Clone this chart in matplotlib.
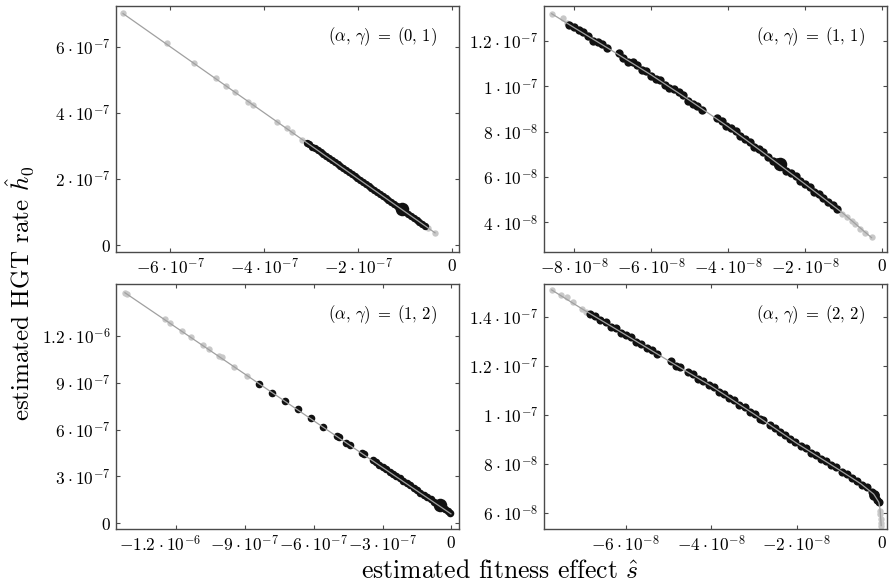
import matplotlib
matplotlib.use("Agg")
import matplotlib.pyplot as plt
from matplotlib.transforms import ScaledTranslation

# ── DATA (s in units of 1e-7 for panels A/C, 1e-9 for panels B/D) ─────────────

# (alpha, gamma) = (0, 1)   units 1e-7
A_GRAY_S = [-7.00, -6.07, -5.49, -5.03, -4.81, -4.62, -4.34, -4.23, -3.72, -3.52, -3.41, -3.19, -0.51, -0.37]
A_GRAY_H = [7.03, 6.10, 5.50, 5.04, 4.81, 4.62, 4.34, 4.23, 3.72, 3.53, 3.41, 3.19, 0.52, 0.37]
A_BLACK_S = [-3.10, -3.04, -2.98, -2.92, -2.86, -2.80, -2.74, -2.68, -2.62, -2.56, -2.50, -2.44, -2.38,
             -2.32, -2.26, -2.20, -2.14, -2.08, -2.02, -1.96, -1.90, -1.84, -1.78, -1.72, -1.66, -1.60,
             -1.54, -1.48, -1.42, -1.36, -1.30, -1.24, -1.18, -1.12, -1.06, -1.00, -0.94, -0.88, -0.82,
             -0.76, -0.70, -0.64, -0.58]
A_BLACK_H = [3.10, 3.05, 2.98, 2.93, 2.86, 2.80, 2.75, 2.68, 2.62, 2.57, 2.50, 2.44, 2.39,
             2.32, 2.26, 2.21, 2.14, 2.08, 2.03, 1.96, 1.90, 1.85, 1.78, 1.72, 1.67, 1.60,
             1.54, 1.49, 1.42, 1.36, 1.31, 1.24, 1.18, 1.13, 1.06, 1.00, 0.95, 0.88, 0.82,
             0.77, 0.70, 0.64, 0.59]
A_BIG = (-1.08, 1.08)
A_LINE_S = [-7.00, -0.37]
A_LINE_H = [7.00, 0.37]

# (alpha, gamma) = (1, 1)   units 1e-9
B_GRAY_S = [-85.8, -82.9, -81.8, -10.5, -9.2, -7.9, -7.0, -5.7, -4.4, -2.7]
B_GRAY_H = [131.9, 129.9, 128.0, 43.9, 42.5, 40.7, 39.3, 36.9, 35.2, 33.4]
B_BLACK_S = [-81.2, -80.0, -78.8, -77.6, -76.4, -75.0, -73.8, -72.6, -71.4, -68.4, -67.2, -66.0, -64.8,
             -63.6, -62.4, -61.2, -60.0, -58.8, -57.6, -56.4, -55.2, -54.0, -52.8, -51.6, -50.4, -49.2,
             -48.0, -46.8, -42.8, -41.6, -40.4, -39.2, -38.0, -36.8, -35.6, -34.4, -33.2, -32.0, -30.8,
             -29.6, -28.4, -27.2, -26.0, -24.8, -23.6, -22.4, -21.2, -20.0, -18.8, -17.6, -16.4, -15.2,
             -14.0, -12.8, -11.6]
B_BLACK_H = [127.0, 126.1, 124.6, 123.9, 122.1, 119.8, 119.4, 118.7, 116.6, 114.4, 112.2, 110.8, 110.5,
             109.3, 107.0, 106.8, 104.4, 103.2, 102.9, 100.5, 99.0, 98.7, 97.5, 95.9, 93.6, 92.3,
             91.2, 89.6, 85.8, 84.6, 82.3, 81.4, 80.2, 78.0, 76.9, 75.6, 73.4, 72.5, 71.2,
             68.9, 67.2, 66.6, 64.8, 62.6, 61.9, 60.3, 58.2, 57.0, 55.5, 53.6, 52.5, 50.9,
             49.0, 47.7, 45.9]
B_BIG = (-26.5, 65.6)
B_LINE_S = [-85.8, -80, -70, -60, -50, -40, -30, -20, -10, -2.7]
B_LINE_H = [131.9, 125.8, 115.5, 105.0, 93.8, 82.2, 69.7, 56.9, 43.9, 33.3]

# (alpha, gamma) = (1, 2)   units 1e-7
C_GRAY_S = [-14.24, -14.15, -12.49, -12.28, -11.77, -11.37, -10.82, -10.56, -10.13, -10.02, -9.49, -8.90]
C_GRAY_H = [14.78, 14.70, 13.08, 12.86, 12.35, 11.92, 11.43, 11.15, 10.72, 10.64, 10.04, 9.44]
C_BLACK_S = [-8.38, -7.81, -7.26, -6.71, -6.14, -5.59, -5.01, -4.92, -4.60, -4.43, -3.92, -3.82, -3.44,
             -3.30, -3.15, -3.00, -2.85, -2.70, -2.55, -2.40, -2.25, -2.10, -1.95, -1.80, -1.65, -1.50,
             -1.35, -1.20, -1.05, -0.90, -0.75, -0.60, -0.45, -0.30, -0.15, -0.05]
C_BLACK_H = [8.93, 8.37, 7.86, 7.31, 6.77, 6.19, 5.60, 5.55, 5.17, 5.02, 4.53, 4.44, 4.06,
             3.92, 3.75, 3.62, 3.46, 3.30, 3.17, 3.01, 2.88, 2.71, 2.58, 2.42, 2.26, 2.13,
             1.96, 1.83, 1.66, 1.53, 1.36, 1.23, 1.06, 0.93, 0.76, 0.66]
C_BIG = (-0.50, 1.17)
C_LINE_S = [-14.24, -0.02]
C_LINE_H = [14.78, 0.60]

# (alpha, gamma) = (2, 2)   units 1e-9
D_GRAY_S = [-77.3, -75.1, -73.8, -72.2, -70.3, -69.3, -0.6, -0.5, -0.35, -0.3, -0.25]
D_GRAY_H = [150.9, 148.8, 147.9, 146.1, 143.0, 142.0, 61.0, 59.5, 57.8, 56.0, 54.7]
D_BLACK_S = [-68.3, -67.1, -65.9, -64.7, -63.5, -62.3, -61.1, -59.9, -58.7, -57.5, -56.3, -55.1, -53.9,
             -52.7, -49.4, -48.2, -47.3, -45.4, -44.2, -43.0, -41.8, -40.6, -39.4, -38.2, -37.0, -35.8,
             -34.6, -33.4, -32.2, -31.0, -29.8, -28.6, -27.9, -26.3, -25.1, -23.9, -22.7, -21.5, -20.3,
             -19.1, -17.9, -16.7, -15.5, -14.3, -13.1, -11.9, -10.7, -9.5, -8.3, -7.1, -5.9, -4.7,
             -3.5, -2.5, -1.8, -1.2, -0.8]
D_BLACK_H = [141.2, 140.4, 138.5, 137.9, 136.0, 135.3, 133.4, 132.5, 131.7, 129.8, 128.9, 127.2, 126.5,
             125.0, 121.9, 120.0, 119.5, 117.4, 116.5, 114.7, 113.9, 112.1, 111.3, 109.5, 108.7, 106.8,
             105.9, 104.0, 103.2, 101.3, 100.6, 98.5, 97.9, 95.8, 94.9, 93.0, 91.9, 90.1, 89.2,
             87.3, 86.5, 84.7, 83.9, 82.0, 81.3, 79.5, 78.7, 76.8, 75.9, 74.2, 73.3, 71.4,
             70.5, 68.5, 67.6, 65.5, 64.5]
D_BIG = (-2.0, 67.5)
D_LINE_S = [-77.3, -70, -60, -50, -40, -30, -20, -10, -5, -2, -0.8, -0.5, -0.25]
D_LINE_H = [150.9, 143.0, 132.6, 122.1, 111.8, 100.4, 88.5, 77.6, 72.0, 67.8, 64.5, 61.5, 55.0]

# ── TICKS / LABELS ────────────────────────────────────────────────────────────

def sci(m, e):
    return r"$%s\:\cdot\:10^{%s}$" % (m, e)

A_XT = [-6, -4, -2, 0]
A_XL = [sci("-6", "-7"), sci("-4", "-7"), sci("-2", "-7"), r"$0$"]
A_YT = [0, 2, 4, 6]
A_YL = [r"$0$", sci("2", "-7"), sci("4", "-7"), sci("6", "-7")]

B_XT = [-80, -60, -40, -20, 0]
B_XL = [sci("-8", "-8"), sci("-6", "-8"), sci("-4", "-8"), sci("-2", "-8"), r"$0$"]
B_YT = [40, 60, 80, 100, 120]
B_YL = [sci("4", "-8"), sci("6", "-8"), sci("8", "-8"), sci("1", "-7"), sci("1.2", "-7")]

C_XT = [-12, -9, -6, -3, 0]
C_XL = [sci("-1.2", "-6"), sci("-9", "-7"), sci("-6", "-7"), sci("-3", "-7"), r"$0$"]
C_YT = [0, 3, 6, 9, 12]
C_YL = [r"$0$", sci("3", "-7"), sci("6", "-7"), sci("9", "-7"), sci("1.2", "-6")]

D_XT = [-60, -40, -20, 0]
D_XL = [sci("-6", "-8"), sci("-4", "-8"), sci("-2", "-8"), r"$0$"]
D_YT = [60, 80, 100, 120, 140]
D_YL = [sci("6", "-8"), sci("8", "-8"), sci("1", "-7"), sci("1.2", "-7"), sci("1.4", "-7")]

TITLES = [r"$(\alpha,\,\gamma)\;=\;(0,\,1)$", r"$(\alpha,\,\gamma)\;=\;(1,\,1)$",
          r"$(\alpha,\,\gamma)\;=\;(1,\,2)$", r"$(\alpha,\,\gamma)\;=\;(2,\,2)$"]

# ── STYLE ─────────────────────────────────────────────────────────────────────

plt.rcParams["mathtext.fontset"] = "cm"
plt.rcParams["font.family"] = "cmr10"
plt.rcParams["axes.unicode_minus"] = False

GRAY = "#c8c8c8"
BLACK = "#111111"
LINE = "#a0a0a0"
FRAME = "#4a4a4a"

# axes rectangles in figure fractions (left, bottom, width, height)
RECTS = [(0.1305, 0.570, 0.3858, 0.4198), (0.6119, 0.570, 0.3858, 0.4198),
         (0.1305, 0.0973, 0.3858, 0.418), (0.6119, 0.0973, 0.3858, 0.418)]

PANELS = [
    (A_GRAY_S, A_GRAY_H, A_BLACK_S, A_BLACK_H, A_BIG, A_LINE_S, A_LINE_H,
     A_XT, A_XL, A_YT, A_YL, (-7.15, 0.14), (-0.21, 7.23)),
    (B_GRAY_S, B_GRAY_H, B_BLACK_S, B_BLACK_H, B_BIG, B_LINE_S, B_LINE_H,
     B_XT, B_XL, B_YT, B_YL, (-87.8, 1.3), (27.0, 135.3)),
    (C_GRAY_S, C_GRAY_H, C_BLACK_S, C_BLACK_H, C_BIG, C_LINE_S, C_LINE_H,
     C_XT, C_XL, C_YT, C_YL, (-14.63, 0.33), (-0.37, 15.34)),
    (D_GRAY_S, D_GRAY_H, D_BLACK_S, D_BLACK_H, D_BIG, D_LINE_S, D_LINE_H,
     D_XT, D_XL, D_YT, D_YL, (-79.1, 1.1), (53.6, 153.3)),
]
BLACK_SIZES = [28, 36, 30, 34]
BIG_SIZES = [95, 95, 95, 60]

# ── PLOT ──────────────────────────────────────────────────────────────────────

fig = plt.figure(figsize=(8.89, 5.86), dpi=100)
axes = []

for rect, title, p, ksz, bsz in zip(RECTS, TITLES, PANELS, BLACK_SIZES, BIG_SIZES):
    gs, gh, bs, bh, big, ls, lh, xt, xl, yt, yl, xlim, ylim = p
    ax = fig.add_axes(rect)
    ax.scatter(gs, gh, s=21, color=GRAY, linewidths=0, zorder=2)
    ax.scatter(bs, bh, s=ksz, color=BLACK, linewidths=0, zorder=3)
    ax.scatter([big[0]], [big[1]], s=bsz, color=BLACK, linewidths=0, zorder=3)
    ax.plot(ls, lh, color=LINE, linewidth=0.9, zorder=4)

    ax.set_xlim(*xlim); ax.set_ylim(*ylim)
    ax.set_xticks(xt); ax.set_xticklabels(xl)
    ax.set_yticks(yt); ax.set_yticklabels(yl)
    ax.tick_params(direction="in", length=3, width=0.8, color=FRAME,
                   top=True, right=True, labelsize=12.5, pad=4)
    for sp in ax.spines.values():
        sp.set_color(FRAME); sp.set_linewidth(1.0)
    ax.text(0.936, 0.875, title, transform=ax.transAxes, ha="right", va="center",
            fontsize=12)
    axes.append(ax)

# the leftmost label of the (1,2) panel sits a little left of its tick
lab = axes[2].get_xticklabels()[0]
lab.set_transform(lab.get_transform() + ScaledTranslation(-16 / 100, 0, fig.dpi_scale_trans))

fig.text(0.022, 0.50, r"estimated HGT rate $\hat{h}_0$", rotation=90,
         ha="center", va="center", fontsize=18)
fig.text(0.562, 0.026, r"estimated fitness effect $\hat{s}$",
         ha="center", va="center", fontsize=18.5)

plt.savefig("out.png", dpi=100)
